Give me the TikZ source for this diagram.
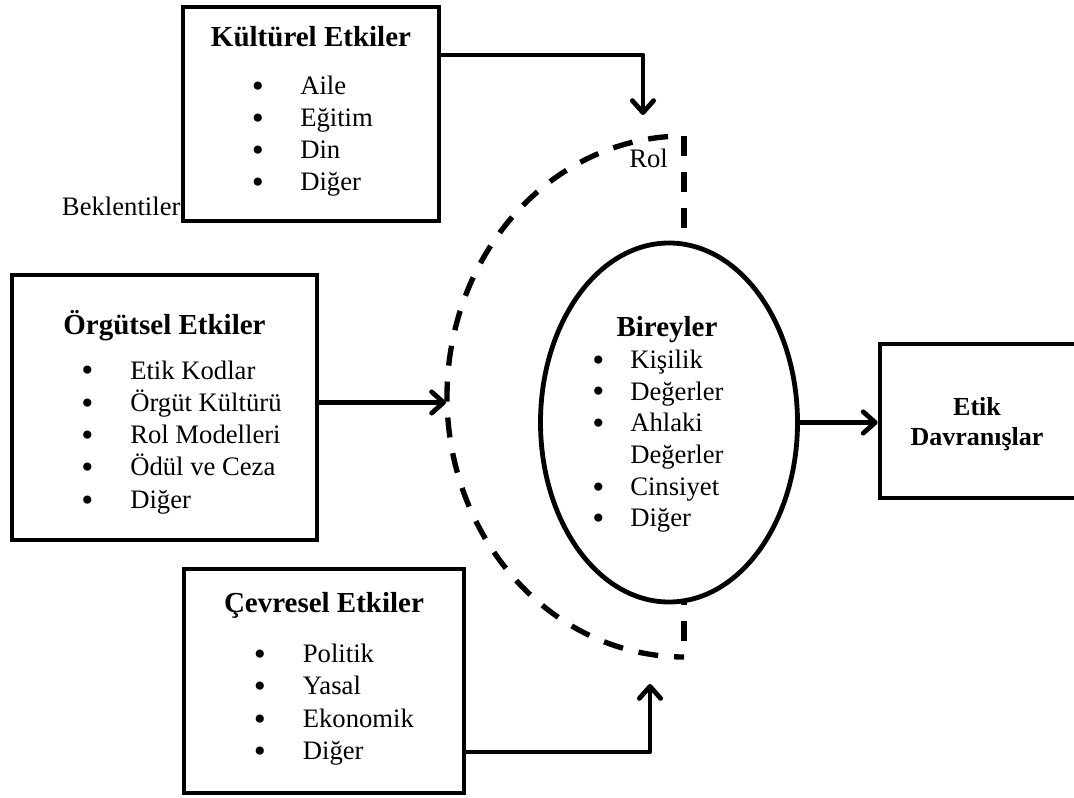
\documentclass[tikz,border=0pt]{standalone}
\usepackage{fontspec}
\setmainfont{Liberation Serif}
\newfontfamily\bulletfont{DejaVu Sans}
\usetikzlibrary{arrows.meta,calc,shapes.geometric}
\begin{document}
\begin{tikzpicture}[x=0.75pt,y=-0.75pt,
  box/.style={draw, line width=3.6pt, rectangle, inner sep=0pt},
  oval/.style={draw, fill=white, line width=3.6pt, ellipse, inner sep=0pt},
  ttl/.style={font=\fontsize{21.75}{26}\selectfont\bfseries, anchor=base, inner sep=0pt},
  itm/.style={font=\fontsize{20}{24}\selectfont, anchor=base west, inner sep=0pt},
  blt/.style={font=\bulletfont\fontsize{21}{24}\selectfont, anchor=base, inner sep=0pt},
  arr/.style={line width=3.6pt, line cap=round, line join=round,
              -{Straight Barb[length=9pt,width=16pt,round]}},
  dashline/.style={line width=4pt, dash pattern=on 15pt off 12pt}
]
\useasboundingbox (0,0) rectangle (1074,798);

% dashed role boundary around the individual
\coordinate (rtop) at (684,136);
\coordinate (rbot) at (684,657);
\draw[dashline, dash phase=15pt]
  plot[domain=90:270, samples=150, smooth] ({684+237*cos(\x)}, {396.5-260.5*sin(\x)});

% influence boxes
\node[box, minimum width=192pt, minimum height=160.5pt] (kult) at (311,114) {};
\node[box, minimum width=228.75pt, minimum height=198.75pt] (org) at (164.5,407.5) {};
\node[box, minimum width=210pt, minimum height=168pt] (cev) at (324,681) {};
\node[box, minimum width=148.5pt, minimum height=115.5pt] (etik) at (979,421) {};

% vertical dashed pieces, then the individual on top
\draw[dashline] (rtop) -- (rtop |- 0,246);
\draw[dashline, dash phase=15pt] (rbot) -- (rbot |- 0,600);
\node[oval, minimum width=192.75pt, minimum height=269.25pt] (ell) at (669,422.5) {};

% Kültürel Etkiler
\node[ttl] (kultT) at (311,46.7) {Kültürel Etkiler};
\foreach \t [count=\i from 0] in {Aile, Eğitim, Din, Diğer} {
  \node[blt] (kb\i) at (258,{95+31.7*\i+2}) {•};
  \node[itm] (kt\i) at (300,{95+31.7*\i}) {\t};
}
\node[itm] (bek) at (61.7,215.7) {Beklentiler};
\node[itm] (rol) at (629,168) {Rol};

% Örgütsel Etkiler
\node[ttl] (orgT) at (164.5,335) {Örgütsel Etkiler};
\foreach \t [count=\i from 0] in {Etik Kodlar, Örgüt Kültürü, Rol Modelleri, Ödül ve Ceza, Diğer} {
  \node[blt] (ob\i) at (87.3,{379+32.3*\i+2}) {•};
  \node[itm] (ot\i) at (130,{379+32.3*\i}) {\t};
}

% Çevresel Etkiler
\node[ttl] (cevT) at (324,612.7) {Çevresel Etkiler};
\foreach \t [count=\i from 0] in {Politik, Yasal, Ekonomik, Diğer} {
  \node[blt] (cb\i) at (260,{662+32.5*\i+2}) {•};
  \node[itm] (ct\i) at (302.6,{662+32.5*\i}) {\t};
}

% Bireyler
\node[ttl] (birT) at (667,336.7) {Bireyler};
\foreach \t [count=\i from 0] in {Kişilik, Değerler, Ahlaki, Değerler, Cinsiyet, Diğer} {
  \node[itm] (bt\i) at (630,{368.3+31.7*\i}) {\t};
}
\foreach \i in {0,1,2,4,5} {
  \node[blt] (bb\i) at (598.3,{368.3+31.7*\i+2}) {•};
}

% Etik Davranışlar
\node[ttl, font=\fontsize{19.5}{23}\selectfont\bfseries] (etT1) at (977,415) {Etik};
\node[ttl, font=\fontsize{19.5}{23}\selectfont\bfseries] (etT2) at (977,445) {Davranışlar};

% connectors
\coordinate (kin) at (643,115);
\coordinate (oin) at (446,402.5);
\coordinate (cin) at (650,684);
\draw[arr] (kult.east |- 0,55) -| (kin);
\draw[arr] (org.east |- oin) -- (oin);
\draw[arr] (ell.east) -- (ell.east -| etik.west);
\draw[arr] (cev.east |- 0,752) -| (cin);
\end{tikzpicture}
\end{document}
